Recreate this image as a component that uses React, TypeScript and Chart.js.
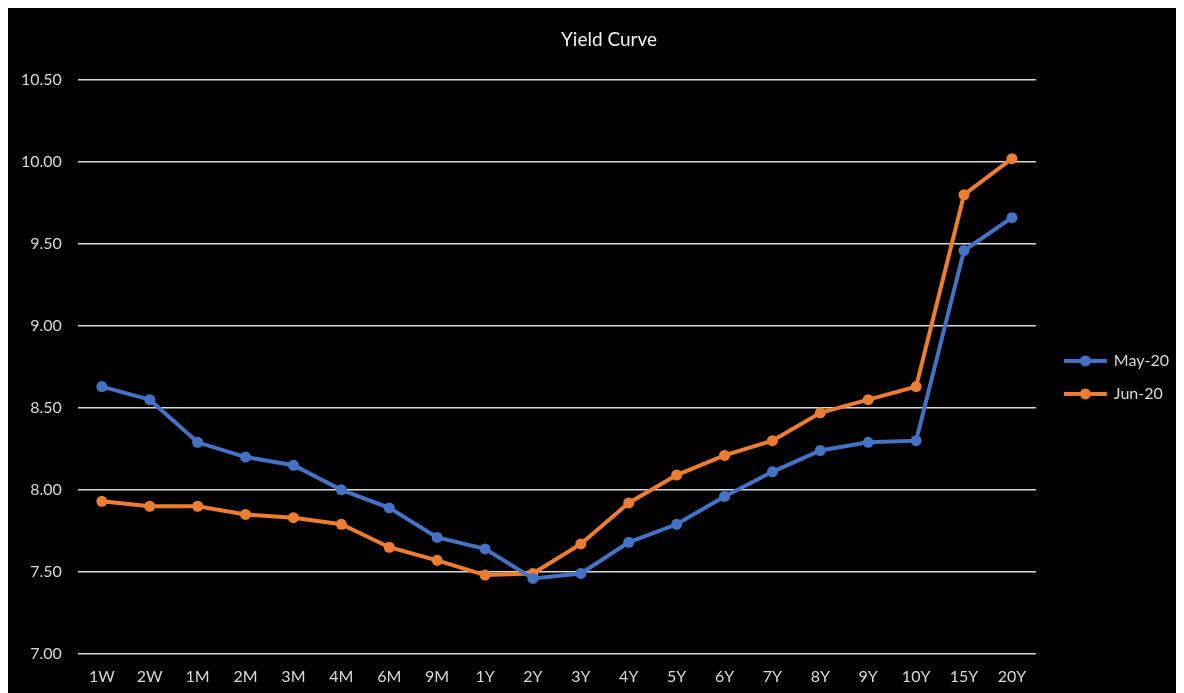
import React, { useEffect, useRef } from "react";
import { Chart, registerables } from "chart.js";

Chart.register(...registerables);

const categories = ["1W", "2W", "1M", "2M", "3M", "4M", "6M", "9M", "1Y", "2Y", "3Y", "4Y", "5Y", "6Y", "7Y", "8Y", "9Y", "10Y", "15Y", "20Y"];
const may20 = [8.63, 8.55, 8.29, 8.2, 8.15, 8.0, 7.89, 7.71, 7.64, 7.46, 7.49, 7.68, 7.79, 7.96, 8.11, 8.24, 8.29, 8.3, 9.46, 9.66];
const jun20 = [7.93, 7.9, 7.9, 7.85, 7.83, 7.79, 7.65, 7.57, 7.48, 7.49, 7.67, 7.92, 8.09, 8.21, 8.3, 8.47, 8.55, 8.63, 9.8, 10.02];
const seriesNames = ["May-20", "Jun-20"];
const titleText = "Yield Curve";
const yMin = 7;
const yMax = 10.5;
const yStep = 0.5;

const BLUE = "#4472C4";
const ORANGE = "#ED7D31";
const FONT = "Lato, 'Open Sans', sans-serif";

function legendImage(color: string): HTMLCanvasElement {
  const c = document.createElement("canvas");
  c.width = 61;
  c.height = 14;
  const ctx = c.getContext("2d")!;
  ctx.strokeStyle = color;
  ctx.lineWidth = 4;
  ctx.beginPath();
  ctx.moveTo(15, 7);
  ctx.lineTo(58, 7);
  ctx.stroke();
  ctx.fillStyle = color;
  ctx.beginPath();
  ctx.arc(36.5, 7, 5.5, 0, Math.PI * 2);
  ctx.fill();
  return c;
}

const titlePlugin = {
  id: "customTitle",
  afterDraw(chart: any) {
    const ctx = chart.ctx;
    ctx.save();
    ctx.fillStyle = "#f2f2f2";
    ctx.font = `19px ${FONT}`;
    ctx.textAlign = "center";
    ctx.textBaseline = "middle";
    ctx.fillText(titleText, 601, 32);
    ctx.restore();
  },
};

export default function App() {
  const ref = useRef<HTMLCanvasElement>(null);
  useEffect(() => {
    if (!ref.current) return;
    const imgs = [legendImage(BLUE), legendImage(ORANGE)];
    const chart = new Chart(ref.current, {
      type: "line",
      data: {
        labels: categories,
        datasets: [
          {
            label: seriesNames[0],
            data: may20,
            borderColor: BLUE,
            backgroundColor: BLUE,
            borderWidth: 4,
            pointRadius: 5.5,
            pointBackgroundColor: BLUE,
            pointBorderWidth: 0,
            tension: 0,
          },
          {
            label: seriesNames[1],
            data: jun20,
            borderColor: ORANGE,
            backgroundColor: ORANGE,
            borderWidth: 4,
            pointRadius: 5.5,
            pointBackgroundColor: ORANGE,
            pointBorderWidth: 0,
            tension: 0,
          },
        ],
      },
      plugins: [titlePlugin],
      options: {
        animation: false,
        responsive: false,
        maintainAspectRatio: false,
        layout: { padding: { left: -3, right: 2, top: 72, bottom: -5 } },
        plugins: {
          title: { display: false },
          legend: {
            position: "right",
            fullSize: false,
            title: { display: true, text: " ", font: { size: 10 }, padding: { top: 9, bottom: 0 } },
            labels: {
              color: "#d9d9d9",
              font: { family: FONT, size: 16 },
              usePointStyle: true,
              pointStyleWidth: 53,
              padding: 17,
              generateLabels: (ch: any) =>
                ch.data.datasets.map((ds: any, i: number) => ({
                  text: ds.label,
                  fillStyle: ds.borderColor,
                  strokeStyle: ds.borderColor,
                  fontColor: "#d9d9d9",
                  lineWidth: 0,
                  pointStyle: imgs[i],
                  datasetIndex: i,
                  hidden: false,
                })),
            },
          },
          tooltip: { enabled: false },
        },
        scales: {
          x: {
            offset: true,
            grid: { display: false, drawTicks: false },
            border: { display: false },
            ticks: { color: "#d9d9d9", font: { family: FONT, size: 16 }, padding: 13, maxRotation: 0, autoSkip: false },
          },
          y: {
            min: yMin,
            max: yMax,
            grid: { color: "#d9d9d9", lineWidth: 1.5, drawTicks: false },
            border: { display: false },
            ticks: {
              stepSize: yStep,
              color: "#d9d9d9",
              font: { family: FONT, size: 16 },
              padding: 16,
              callback: (v: any) => Number(v).toFixed(2),
            },
          },
        },
      },
    });
    return () => chart.destroy();
  }, []);
  return (
    <div style={{ width: 1173, height: 686, background: "#000" }}>
      <canvas ref={ref} width={1173} height={686} style={{ display: "block" }} />
    </div>
  );
}
